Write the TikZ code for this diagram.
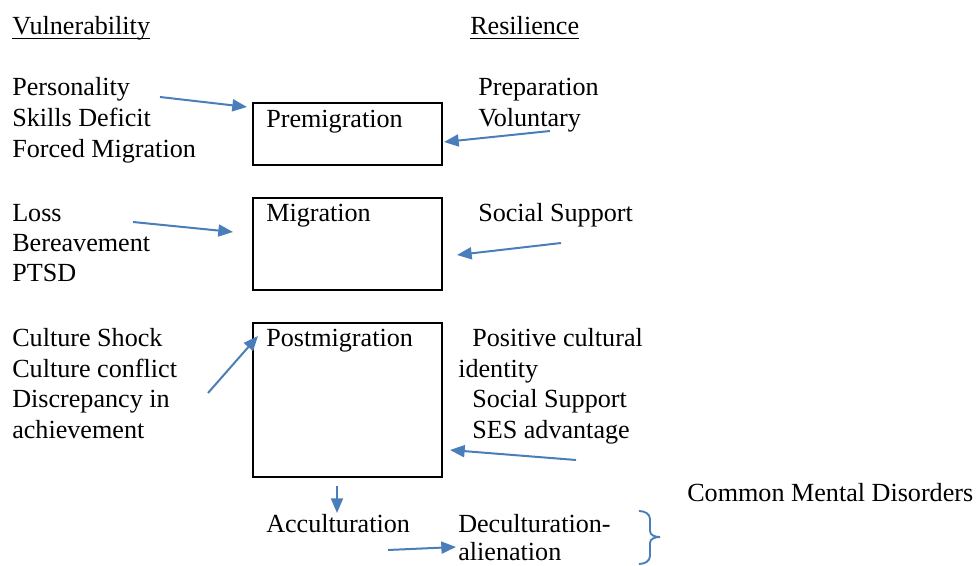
\documentclass[tikz,border=0pt]{standalone}
\usepackage{fontspec}
\setmainfont{Liberation Serif}
\usetikzlibrary{arrows.meta}
\usetikzlibrary{positioning}

\definecolor{wordblue}{HTML}{4A7EBB}

\tikzset{
    txt/.style={inner sep=0pt, anchor=base west, font=\fontsize{19.6pt}{23pt}\selectfont},
    stagebox/.style={draw, line width=1.5pt, anchor=north west, minimum width=141.75pt, inner sep=0pt},
    flow/.style={draw=wordblue, line width=1.5pt, -{Triangle[length=11pt,width=9pt]}},
    bracepath/.style={draw=wordblue, line width=1.4pt},
}

\begin{document}
\begin{tikzpicture}[x=0.75pt, y=-0.75pt]
    \useasboundingbox (0,0) rectangle (979,566);

    % headings
    \node[txt] (vul) at (12,35) {Vulnerability};
    \node[txt] (res) at (470,35) {Resilience};
    \draw[line width=0.8pt] ([yshift=-2.6pt]vul.base west) -- ([yshift=-2.6pt]vul.base east);
    \draw[line width=0.8pt] ([yshift=-2.6pt]res.base west) -- ([yshift=-2.6pt]res.base east);

    % stage boxes
    \node[stagebox, minimum height=46.5pt] (premig) at (252,102) {};
    \node[stagebox, minimum height=69pt] (mig) at (252,197) {};
    \node[stagebox, minimum height=115.5pt] (postmig) at (252,322) {};
    \node[txt] (premigText) at (266,128) {Premigration};
    \node[txt] (migText) at (266,222) {Migration};
    \node[txt] (postmigText) at (266,347) {Postmigration};

    % vulnerability factors
    \node[txt] (pers) at (12,96) {Personality};
    \node[txt] (skills) at (12,127) {Skills Deficit};
    \node[txt] (forced) at (12,158) {Forced Migration};
    \node[txt] (loss) at (12,222) {Loss};
    \node[txt] (bereav) at (12,252) {Bereavement};
    \node[txt] (ptsd) at (12,282) {PTSD};
    \node[txt] (shock) at (12,347) {Culture Shock};
    \node[txt] (conflict) at (12,378) {Culture conflict};
    \node[txt] (discr) at (12,408) {Discrepancy in};
    \node[txt] (achiev) at (12,439) {achievement};

    % resilience factors
    \node[txt] (prep) at (478,96) {Preparation};
    \node[txt] (volun) at (478,127) {Voluntary};
    \node[txt] (supportA) at (478,222) {Social Support};
    \node[txt] (posit) at (472,347) {Positive cultural};
    \node[txt] (ident) at (458,378) {identity};
    \node[txt] (supportB) at (472,408) {Social Support};
    \node[txt] (ses) at (472,439) {SES advantage};

    % outcomes
    \node[txt] (accult) at (266,533) {Acculturation};
    \node[txt] (decult) at (458,533) {Deculturation-};
    \node[txt] (alien) at (458,561) {alienation};
    \node[txt] (cmd) at (687,502) {Common Mental Disorders};

    % arrow ends
    \coordinate (persOut) at (160,97);
    \coordinate (premigIn) at (247,107);
    \coordinate (volunOut) at (550,131);
    \coordinate (premigInR) at (444,142);
    \coordinate (lossOut) at (133,222);
    \coordinate (migIn) at (233,232);
    \coordinate (supportAOut) at (561,243);
    \coordinate (migInR) at (457,255);
    \coordinate (conflictOut) at (208,393);
    \coordinate (postmigIn) at (258,336);
    \coordinate (sesOut) at (576,460);
    \coordinate (postmigInR) at (450,450);
    \coordinate (accultOut) at (337,486);
    \coordinate (accultIn) at (337,513);
    \coordinate (alienOut) at (388,550);
    \coordinate (alienIn) at (456,547);

    \draw[flow] (persOut) -- (premigIn);
    \draw[flow] (volunOut) -- (premigInR);
    \draw[flow] (lossOut) -- (migIn);
    \draw[flow] (supportAOut) -- (migInR);
    \draw[flow] (conflictOut) -- (postmigIn);
    \draw[flow] (sesOut) -- (postmigInR);
    \draw[flow] (accultOut) -- (accultIn);
    \draw[flow] (alienOut) -- (alienIn);

    % brace
    \draw[bracepath] (639,511) to[out=0,in=90] (650,519) -- (650,531) to[out=-90,in=180] (660,537);
    \draw[bracepath] (660,537) to[out=180,in=90] (650,543) -- (650,556) to[out=-90,in=0] (639,564);
\end{tikzpicture}
\end{document}
